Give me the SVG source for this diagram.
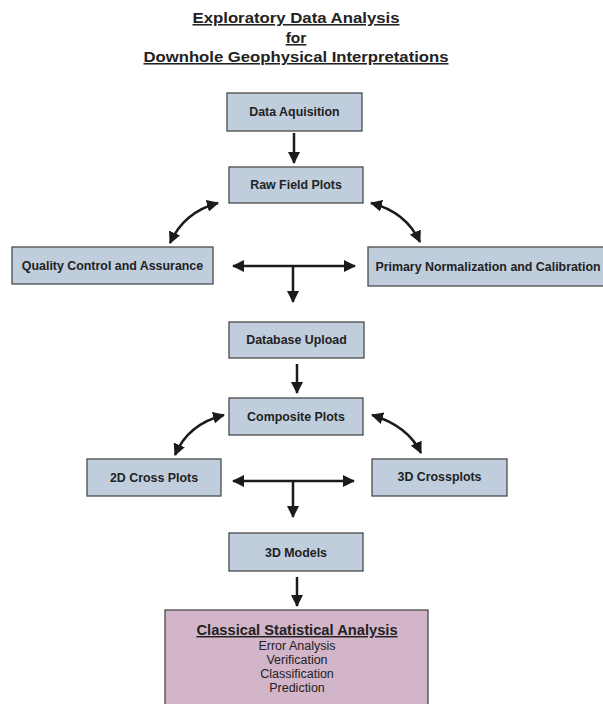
<svg xmlns="http://www.w3.org/2000/svg" width="603" height="704" viewBox="0 0 603 704">
<defs>
<marker id="ah" viewBox="0 0 12 12" refX="11" refY="6" markerWidth="12" markerHeight="12" markerUnits="userSpaceOnUse" orient="auto-start-reverse">
<path d="M0,0 L12,6 L0,12 z" fill="#1e1a1a"/>
</marker>
<style>
.box{fill:#bfcddc;stroke:#4a4a4a;stroke-width:1.3}
.pink{fill:#d3b5c9;stroke:#4a4a4a;stroke-width:1.3}
.lbl{font-family:"Liberation Sans",Arial,sans-serif;font-weight:bold;font-size:12.4px;fill:#222;text-anchor:middle}
.title{font-family:"Liberation Sans",Arial,sans-serif;font-weight:bold;font-size:15.5px;fill:#222;text-anchor:middle;text-decoration:underline}
.t2{font-family:"Liberation Sans",Arial,sans-serif;font-weight:bold;font-size:14.7px;fill:#222;text-anchor:middle;text-decoration:underline}
.sub{font-family:"Liberation Sans",Arial,sans-serif;font-size:12.5px;fill:#222;text-anchor:middle}
.c{fill:none;stroke:#1e1a1a;stroke-width:2.5}
</style>
</defs>
<g id="title">
<text class="title" x="296" y="23" textLength="207" lengthAdjust="spacingAndGlyphs">Exploratory Data Analysis</text>
<text class="title" x="296" y="43">for</text>
<text class="title" x="296" y="62" textLength="305" lengthAdjust="spacingAndGlyphs">Downhole Geophysical Interpretations</text>
</g>
<g id="connectors">
<path class="c" d="M294,133 L294,163" marker-end="url(#ah)"/>
<path class="c" d="M218,203 Q184,212 170,243" marker-start="url(#ah)" marker-end="url(#ah)"/>
<path class="c" d="M371,203 Q406,212 420,242" marker-start="url(#ah)" marker-end="url(#ah)"/>
<path class="c" d="M233,266 L355,266" marker-start="url(#ah)" marker-end="url(#ah)"/>
<path class="c" d="M293,266 L293,302" marker-end="url(#ah)"/>
<path class="c" d="M297,364 L297,393" marker-end="url(#ah)"/>
<path class="c" d="M224,415 Q188,424 175,455" marker-start="url(#ah)" marker-end="url(#ah)"/>
<path class="c" d="M372,415 Q408,426 421,453" marker-start="url(#ah)" marker-end="url(#ah)"/>
<path class="c" d="M233,481 L354,481" marker-start="url(#ah)" marker-end="url(#ah)"/>
<path class="c" d="M293,481 L293,517" marker-end="url(#ah)"/>
<path class="c" d="M297,577 L297,606" marker-end="url(#ah)"/>
</g>
<g id="data-aquisition">
<rect class="box" x="227" y="93" width="135" height="38"/>
<text class="lbl" x="294.5" y="116">Data Aquisition</text>
</g>
<g id="raw-field-plots">
<rect class="box" x="229" y="167" width="134" height="36"/>
<text class="lbl" x="296" y="189">Raw Field Plots</text>
</g>
<g id="quality-control">
<rect class="box" x="12" y="247" width="201" height="37"/>
<text class="lbl" x="112.5" y="269.5">Quality Control and Assurance</text>
</g>
<g id="primary-normalization">
<rect class="box" x="368" y="247" width="240" height="39"/>
<text class="lbl" x="488" y="270.5">Primary Normalization and Calibration</text>
</g>
<g id="database-upload">
<rect class="box" x="229" y="322" width="135" height="36"/>
<text class="lbl" x="296.5" y="343.5">Database Upload</text>
</g>
<g id="composite-plots">
<rect class="box" x="229" y="398" width="134" height="37"/>
<text class="lbl" x="296" y="420.5">Composite Plots</text>
</g>
<g id="cross-plots-2d">
<rect class="box" x="87" y="459" width="134" height="37"/>
<text class="lbl" x="154" y="481.5">2D Cross Plots</text>
</g>
<g id="crossplots-3d">
<rect class="box" x="372" y="459" width="135" height="37"/>
<text class="lbl" x="439.5" y="480.5">3D Crossplots</text>
</g>
<g id="models-3d">
<rect class="box" x="229" y="533" width="134" height="38"/>
<text class="lbl" x="296" y="556.5">3D Models</text>
</g>
<g id="classical-statistical-analysis">
<rect class="pink" x="165" y="610" width="263" height="100"/>
<text class="t2" x="297" y="635">Classical Statistical Analysis</text>
<text class="sub" x="297" y="650">Error Analysis</text>
<text class="sub" x="297" y="664">Verification</text>
<text class="sub" x="297" y="678">Classification</text>
<text class="sub" x="297" y="692">Prediction</text>
</g>
</svg>
